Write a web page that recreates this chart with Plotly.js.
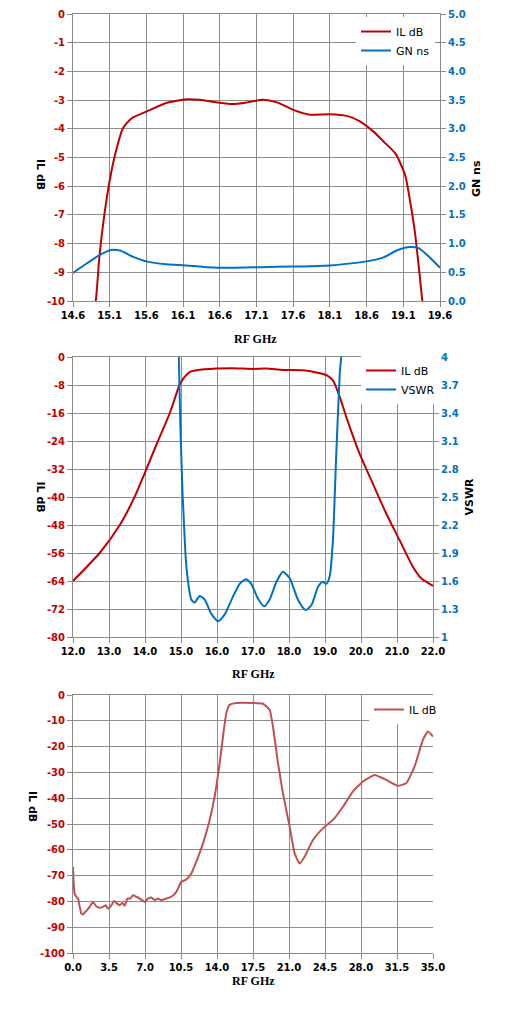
<!DOCTYPE html>
<html><head><meta charset="utf-8">
<script src="https://cdn.plot.ly/plotly-3.0.1.min.js"></script>
<style>body{margin:0;padding:0;background:#fff}#c{width:509px;height:1015px}</style>
</head><body><div id="c"></div>
<script>
// ---- Chart 1: IL dB and GN ns vs RF GHz (14.6 - 19.6) ----
var c1_il_x = [14.86,14.91,14.96,15.03,15.11,15.19,15.28,15.40,15.60,15.87,16.15,16.33,16.56,16.78,16.97,17.19,17.38,17.60,17.83,18.10,18.33,18.51,18.69,18.83,18.99,19.06,19.13,19.19,19.26,19.32,19.36,19.40];
var c1_il_y = [-10.6,-10.0,-8.45,-6.94,-5.66,-4.73,-3.98,-3.63,-3.40,-3.10,-2.97,-2.99,-3.08,-3.14,-3.08,-2.99,-3.08,-3.34,-3.51,-3.49,-3.55,-3.74,-4.09,-4.44,-4.85,-5.20,-5.66,-6.48,-7.64,-9.03,-10.0,-10.6];
var c1_gn_x = [14.60,14.69,14.83,14.96,15.12,15.24,15.42,15.60,15.87,16.15,16.42,16.78,17.15,17.60,18.10,18.42,18.60,18.83,19.01,19.19,19.31,19.45,19.60];
var c1_gn_y = [0.49,0.57,0.69,0.80,0.89,0.88,0.77,0.69,0.64,0.62,0.59,0.58,0.59,0.60,0.62,0.66,0.69,0.76,0.88,0.94,0.92,0.77,0.58];
var c1_yticks = [0,-1,-2,-3,-4,-5,-6,-7,-8,-9,-10];
var c1_ylabels = ['0','-1','-2','-3','-4','-5','-6','-7','-8','-9','-10'];

// ---- Chart 2: IL dB and VSWR vs RF GHz (12 - 22) ----
var c2_il_x = [12.0,12.74,13.30,13.71,14.04,14.36,14.69,14.96,15.10,15.24,15.43,15.98,16.44,17.0,17.37,17.83,18.39,18.76,19.04,19.22,19.41,19.59,19.96,20.33,20.70,21.07,21.44,21.68,22.0];
var c2_il_y = [-64,-56,-48,-40,-32,-24,-16,-8,-5.7,-4.3,-3.8,-3.3,-3.2,-3.4,-3.3,-3.7,-3.8,-4.4,-5.2,-6.7,-11.4,-17.1,-27.6,-36.2,-44.7,-52.3,-59.9,-63.3,-65.4];
var c2_vswr_x = [14.92,14.94,14.98,15.04,15.06,15.15,15.29,15.38,15.52,15.66,15.84,16.03,16.21,16.44,16.63,16.80,16.95,17.14,17.31,17.46,17.65,17.83,18.02,18.25,18.46,18.62,18.81,18.93,19.04,19.13,19.22,19.31,19.41,19.45,19.47];
var c2_vswr_y = [4.4,4.0,3.29,2.57,2.40,1.75,1.40,1.37,1.44,1.40,1.25,1.17,1.24,1.43,1.57,1.62,1.57,1.41,1.33,1.40,1.59,1.70,1.63,1.40,1.29,1.34,1.54,1.59,1.57,1.65,2.04,2.93,3.82,4.0,4.4];
var c2_yticks = [0,-8,-16,-24,-32,-40,-48,-56,-64,-72,-80];
var c2_ylabels = ['0','-8','-16','-24','-32','-40','-48','-56','-64','-72','-80'];

// ---- Chart 3: IL dB vs RF GHz (0 - 35) ----
var c3_il_x = [0,0.06,0.16,0.32,0.49,0.65,0.81,0.97,1.13,1.36,1.62,1.94,2.27,2.59,2.92,3.18,3.40,3.73,3.99,4.28,4.54,4.80,5.02,5.28,5.57,5.83,6.16,6.48,6.97,7.29,7.62,7.94,8.26,8.59,9.07,9.56,10.05,10.53,11.02,11.50,11.99,12.64,13.29,13.77,14.26,14.58,14.91,15.23,15.88,17.50,18.47,19.12,19.44,19.93,20.41,21.06,21.55,22.03,22.52,23.33,24.30,25.28,26.25,27.22,28.19,29.33,30.46,31.59,32.40,33.21,34.02,34.51,35.0];
var c3_il_y = [-66.6,-73,-77,-78.2,-78.9,-82.1,-84.7,-85.1,-84.3,-83.4,-82.1,-80.2,-81.9,-82.5,-82.1,-81.5,-82.8,-81.5,-79.8,-80.8,-81.5,-80.6,-81.7,-78.9,-78.9,-77.6,-78.2,-78.9,-80.2,-78.9,-78.5,-79.5,-78.9,-79.5,-78.9,-78.2,-76.3,-72.4,-71.5,-69.2,-64.6,-57.5,-48.4,-39.4,-26.4,-16.1,-7.0,-3.8,-3.1,-3.1,-3.4,-5.7,-12.2,-26.4,-38.1,-51.0,-61.4,-65.3,-62.7,-56.2,-51.7,-48.4,-43.3,-37.4,-33.5,-31.0,-32.9,-35.2,-34.2,-27.7,-17.4,-14.1,-16.1];
var c3_yticks = [0,-10,-20,-30,-40,-50,-60,-70,-80,-90,-100];
var c3_ylabels = ['0','-10','-20','-30','-40','-50','-60','-70','-80','-90','-100'];

var RED = '#c00000', BLUE = '#0070c0', RED3 = '#c0504d', GRID = '#8c8c8c';
var W = 509, H = 1015;
function px(v){return v/W;}
function py(v){return 1 - v/H;}

var tickFont = function(col){return {family:'DejaVu Sans', size:10, color:col, weight:'bold'};};
function xax(dom, anchor, range, dtick){
  return {domain:dom, anchor:anchor, range:range, tick0:range[0], dtick:dtick, tickformat:'.1f',
    showgrid:true, gridcolor:GRID, gridwidth:1, showline:true, linecolor:GRID, linewidth:1, mirror:true,
    ticks:'outside', ticklen:5, tickcolor:GRID, tickfont:tickFont('#000'), zeroline:false, fixedrange:true};
}
function yax(dom, anchor, range, vals, labels, col){
  return {domain:dom, anchor:anchor, range:range, tickmode:'array', tickvals:vals, ticktext:labels,
    showgrid:true, gridcolor:GRID, gridwidth:1, showline:true, linecolor:GRID, linewidth:1,
    ticks:'outside', ticklen:5, tickcolor:GRID, tickfont:tickFont(col), zeroline:false, fixedrange:true};
}
function yaxR(over, anchor, range, dtick, col, fmt){
  var a = {overlaying:over, side:'right', anchor:anchor, range:range, tick0:range[0], dtick:dtick,
    showgrid:false, showline:true, linecolor:GRID, linewidth:1,
    ticks:'outside', ticklen:5, tickcolor:GRID, tickfont:tickFont(col), zeroline:false, fixedrange:true};
  if (fmt) a.tickformat = fmt;
  return a;
}

var d1x = [px(73), px(440)], d1y = [py(301), py(14)];
var d2x = [px(73), px(433)], d2y = [py(637), py(357)];
var d3x = [px(73), px(433)], d3y = [py(953), py(695)];

function ln(col){return {color:col, width:2, shape:'spline', smoothing:0.6};}

var traces = [
  {x:c1_il_x, y:c1_il_y, xaxis:'x', yaxis:'y', name:'IL dB', mode:'lines', line:ln(RED), legend:'legend'},
  {x:c1_gn_x, y:c1_gn_y, xaxis:'x', yaxis:'y2', name:'GN ns', mode:'lines', line:ln(BLUE), legend:'legend'},
  {x:c2_il_x, y:c2_il_y, xaxis:'x2', yaxis:'y3', name:'IL dB', mode:'lines', line:ln(RED), legend:'legend2'},
  {x:c2_vswr_x, y:c2_vswr_y, xaxis:'x2', yaxis:'y4', name:'VSWR', mode:'lines', line:ln(BLUE), legend:'legend2'},
  {x:c3_il_x, y:c3_il_y, xaxis:'x3', yaxis:'y5', name:'IL dB', mode:'lines', line:{color:RED3, width:2, shape:'spline', smoothing:0.4}, legend:'legend3'}
];

var legFont = {family:'DejaVu Sans', size:11, color:'#000'};
var titleFontB = {family:'DejaVu Sans', size:11, color:'#000', weight:'bold'};
var xtFont = {family:'Liberation Serif', size:12, color:'#000', weight:'bold'};

var layout = {
  width:W, height:H, margin:{l:0,r:0,t:0,b:0}, paper_bgcolor:'#fff', plot_bgcolor:'#fff',
  showlegend:true,
  xaxis: xax(d1x, 'y', [14.6, 19.6], 0.5),
  yaxis: yax(d1y, 'x', [-10, 0], c1_yticks, c1_ylabels, RED),
  yaxis2: yaxR('y', 'x', [0, 5], 0.5, BLUE, '.1f'),
  xaxis2: xax(d2x, 'y3', [12, 22], 1),
  yaxis3: yax(d2y, 'x2', [-80, 0], c2_yticks, c2_ylabels, RED),
  yaxis4: yaxR('y3', 'x2', [1, 4], 0.3, BLUE),
  xaxis3: xax(d3x, 'y5', [0, 35], 3.5),
  yaxis5: yax(d3y, 'x3', [-100, 0], c3_yticks, c3_ylabels, RED),
  legend: {x:px(356), y:py(17), xanchor:'left', yanchor:'top', bgcolor:'#fff', borderwidth:0, font:legFont},
  legend2: {x:px(361), y:py(356), xanchor:'left', yanchor:'top', bgcolor:'#fff', borderwidth:0, font:legFont},
  legend3: {x:px(369), y:py(695), xanchor:'left', yanchor:'top', bgcolor:'#fff', borderwidth:0, font:legFont},
  annotations: [
    {text:'RF GHz', xref:'paper', yref:'paper', x:px(256), y:py(339), showarrow:false, font:xtFont},
    {text:'RF GHz', xref:'paper', yref:'paper', x:px(253), y:py(674), showarrow:false, font:xtFont},
    {text:'RF GHz', xref:'paper', yref:'paper', x:px(253), y:py(990), showarrow:false, font:xtFont},
    {text:'IL dB', xref:'paper', yref:'paper', x:px(32), y:py(157), showarrow:false, textangle:90, font:titleFontB},
    {text:'IL dB', xref:'paper', yref:'paper', x:px(32), y:py(497), showarrow:false, textangle:90, font:titleFontB},
    {text:'IL dB', xref:'paper', yref:'paper', x:px(24), y:py(824), showarrow:false, textangle:90, font:titleFontB},
    {text:'GN ns', xref:'paper', yref:'paper', x:px(485), y:py(158), showarrow:false, textangle:-90, font:titleFontB},
    {text:'VSWR', xref:'paper', yref:'paper', x:px(477), y:py(497), showarrow:false, textangle:-90, font:titleFontB}
  ]
};

Plotly.newPlot('c', traces, layout, {staticPlot:true, displayModeBar:false});
</script>
</body></html>
